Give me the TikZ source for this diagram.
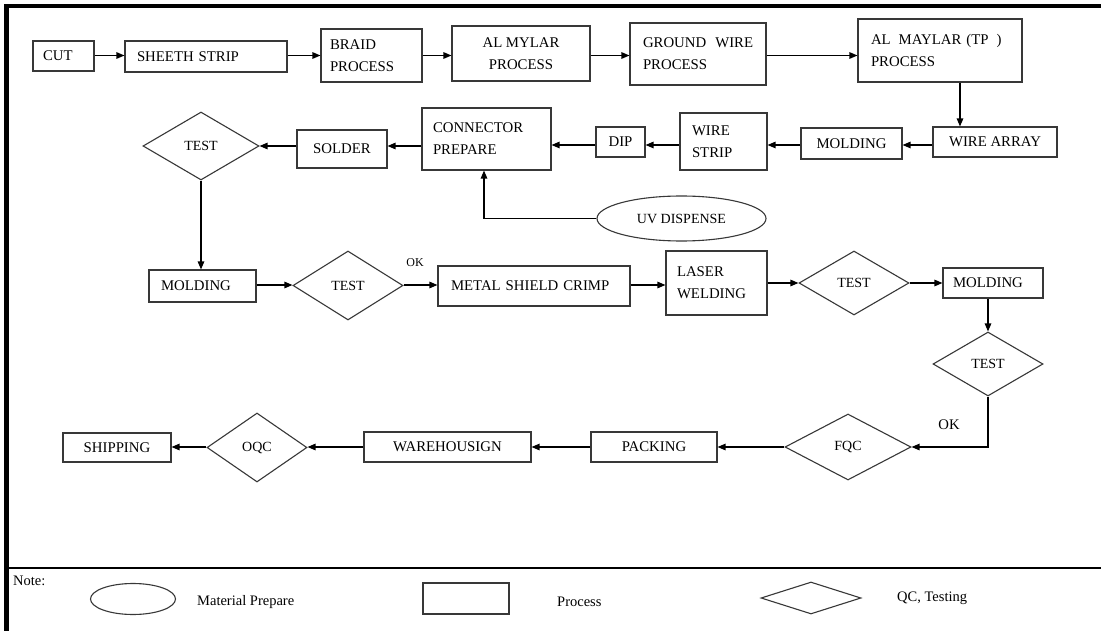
\documentclass[tikz,border=0pt]{standalone}
\usepackage{fontspec}
\setmainfont{Liberation Serif}
\usetikzlibrary{shapes.geometric,arrows.meta}
\definecolor{edge}{gray}{0.22}
\tikzset{
  base/.style={draw=edge, line width=1.1pt, inner sep=0pt, font=\fontsize{14.8}{22}\selectfont},
  lbox/.style n args={3}{base, rectangle, align=left, text width=#1pt, minimum height=#2pt, inner xsep=#3pt},
  cbox/.style 2 args={base, rectangle, align=center, minimum width=#1pt, minimum height=#2pt},
  qc/.style 2 args={base, diamond, minimum width=#1pt, minimum height=#2pt, font=\fontsize{14}{16}\selectfont},
  mat/.style 2 args={base, ellipse, minimum width=#1pt, minimum height=#2pt, font=\fontsize{14}{16}\selectfont},
  flow/.style={draw=black, line width=1.2pt, -{Triangle[length=8pt,width=6.5pt]}},
  legtext/.style={inner sep=0pt, anchor=base west, font=\fontsize{14.5}{17}\selectfont},
  oktext/.style={inner sep=0pt},
}
\begin{document}
\begin{tikzpicture}[x=1pt,y=-1pt]
\fill[white] (0,0) rectangle (1101,631);
\useasboundingbox (0,0) rectangle (1101,631);

% frame and legend separator
\draw[line width=4pt] (4.5,6.3) -- (1101,6.3);
\draw[line width=4.5pt] (6.5,4.3) -- (6.5,631);
\draw[line width=1.4pt] (6.5,568) -- (1101,568);

% row guide coordinates
\coordinate (r1) at (0,55.5);
\coordinate (r2) at (0,145);
\coordinate (r3) at (0,285);
\coordinate (r3b) at (0,283);
\coordinate (r4) at (0,447);

% first row
\node[lbox={41}{30}{10}] (cut) at (63.5,56) {CUT};
\node[lbox={138}{31}{12}] (sheeth) at (206,56.5) {SHEETH STRIP};
\node[lbox={83}{53}{9}] (braid) at (371.5,55.5) {BRAID\\PROCESS};
\node[cbox={138}{55}] (almylar) at (521,53.5) {AL MYLAR\\PROCESS};
\node[lbox={110}{62}{13}] (ground) at (698,54) {\mbox{GROUND\hspace{9pt}WIRE}\\PROCESS};
\node[lbox={138}{63}{13}] (tp) at (940,50.5) {\mbox{AL\hspace{8pt}MAYLAR\hspace{5pt}(TP\hspace{8pt})}\\PROCESS};

% second row
\node[cbox={124}{30}] (wirearray) at (995,142) {WIRE ARRAY};
\node[cbox={101}{31}] (molding1) at (851.5,143.5) {MOLDING};
\node[lbox={63}{57}{12}] (wirestrip) at (723.5,141.5) {WIRE\\STRIP};
\node[cbox={49}{30}] (dip) at (620.5,142) {DIP};
\node[lbox={107}{62}{11}] (connector) at (486.5,139) {CONNECTOR\\PREPARE};
\node[cbox={90}{38}] (solder) at (342,149) {SOLDER};
\node[qc={116}{68}] (test1) at (201,146) {TEST};
\node[mat={169}{45}] (uv) at (681.5,218.5) {UV DISPENSE};

% third row
\node[lbox={83}{32}{12}] (molding2) at (202.5,286) {MOLDING};
\node[qc={110}{69}] (test2) at (348,285.5) {TEST};
\node[lbox={166}{40}{13}] (metal) at (534,286) {METAL SHIELD CRIMP};
\node[lbox={79}{64}{11}] (laser) at (716.5,283) {LASER\\WELDING};
\node[qc={110}{64}] (test3) at (854,283) {TEST};
\node[lbox={80}{30}{10}] (molding3) at (993,283) {MOLDING};
\node[qc={110}{64}] (test4) at (988,364) {TEST};

% fourth row
\node[qc={126}{66}] (fqc) at (848,447) {FQC};
\node[cbox={126}{30}] (packing) at (654,447) {PACKING};
\node[cbox={167}{30}] (warehouse) at (447.5,447) {WAREHOUSIGN};
\node[qc={100}{69}] (oqc) at (257,447.5) {OQC};
\node[cbox={108}{29}] (shipping) at (117,447.5) {SHIPPING};

% labels on branches
\node[oktext, font=\fontsize{12}{14}\selectfont] (ok1) at (415,263) {OK};
\node[oktext, font=\fontsize{14.7}{17}\selectfont] (ok2) at (949,425) {OK};

% connectors, first row
\draw[flow] (cut.east |- r1) -- (sheeth.west |- r1);
\draw[flow] (sheeth.east |- r1) -- (braid.west |- r1);
\draw[flow] (braid.east |- r1) -- (almylar.west |- r1);
\draw[flow] (almylar.east |- r1) -- (ground.west |- r1);
\draw[flow] (ground.east |- r1) -- (tp.west |- r1);
\draw[flow] ([xshift=20pt]tp.south) -- ([xshift=20pt]tp.south |- wirearray.north);

% connectors, second row
\draw[flow] (wirearray.west |- r2) -- (molding1.east |- r2);
\draw[flow] (molding1.west |- r2) -- (wirestrip.east |- r2);
\draw[flow] (wirestrip.west |- r2) -- (dip.east |- r2);
\draw[flow] (dip.west |- r2) -- (connector.east |- r2);
\draw[flow] (connector.west |- test1.east) -- (solder.east |- test1.east);
\draw[flow] (solder.west |- test1.east) -- (test1.east);
\draw[flow] (uv.west) -| ([xshift=-2.5pt]connector.south);
\draw[flow] (test1.south) -- (test1.south |- molding2.north);

% connectors, third row
\draw[flow] (molding2.east |- r3) -- (test2.west |- r3);
\draw[flow] (test2.east |- r3) -- (metal.west |- r3);
\draw[flow] (metal.east |- r3) -- (laser.west |- r3);
\draw[flow] (laser.east |- r3b) -- (test3.west |- r3b);
\draw[flow] (test3.east |- r3b) -- (molding3.west |- r3b);
\draw[flow] (test4.north |- molding3.south) -- (test4.north);
\draw[flow] (test4.south) |- (fqc.east);

% connectors, fourth row
\draw[flow] (fqc.west |- r4) -- (packing.east |- r4);
\draw[flow] (packing.west |- r4) -- (warehouse.east |- r4);
\draw[flow] (warehouse.west |- r4) -- (oqc.east |- r4);
\draw[flow] (oqc.west |- r4) -- (shipping.east |- r4);

% legend
\node[legtext] (note) at (13,585) {Note:};
\node[mat={85}{31}] (legmat) at (133,599) {};
\node[legtext] (legmattext) at (197,605) {Material Prepare};
\node[cbox={86}{31}] (legproc) at (466,598.5) {};
\node[legtext] (legproctext) at (557,606) {Process};
\node[qc={100}{32}] (legqc) at (811,598) {};
\node[legtext] (legqctext) at (897,601) {QC, Testing};
\end{tikzpicture}
\end{document}
